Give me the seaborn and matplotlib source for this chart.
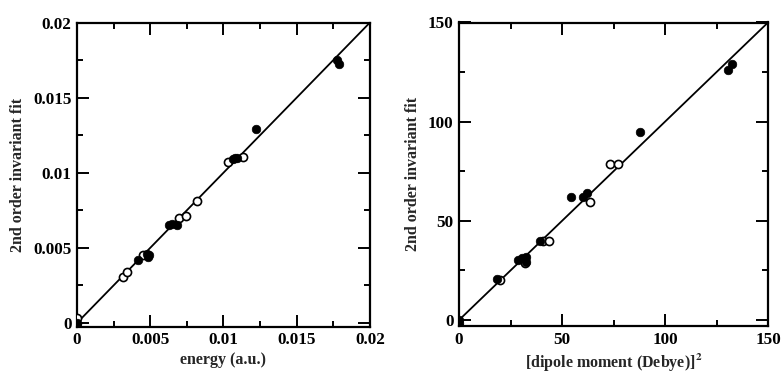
import matplotlib
matplotlib.use("Agg")
import matplotlib.pyplot as plt
import seaborn as sns
import pandas as pd
from matplotlib.ticker import MultipleLocator

# ---------------- data ----------------
# Left panel: energy (a.u.) vs 2nd order invariant fit
energy_filled_x = [0.0, 0.0, 0.00419, 0.00476, 0.00485, 0.00494, 0.0063, 0.0065, 0.0068,
                   0.01063, 0.01078, 0.01094, 0.01222, 0.01773, 0.01789]
energy_filled_y = [0.0, -0.0001, 0.0042, 0.0046, 0.0044, 0.0045, 0.0065, 0.0066, 0.0065,
                   0.0109, 0.0110, 0.0110, 0.0129, 0.01748, 0.01721]
energy_open_x = [0.0, 0.00312, 0.00339, 0.00453, 0.00698, 0.00744, 0.00817,
                 0.01033, 0.01131]
energy_open_y = [0.0003, 0.00309, 0.00342, 0.00453, 0.00698, 0.00713, 0.00809,
                 0.01071, 0.01105]
energy_ticks = [0, 0.005, 0.01, 0.015, 0.02]
energy_ticklabels = ["0", "0.005", "0.01", "0.015", "0.02"]

# Right panel: [dipole moment (Debye)]^2 vs 2nd order invariant fit
dipole_filled_x = [0.0, 0.0, 0.0, 18.3, 28.8, 30.4, 32.5, 32.5, 39.3, 54.2, 60.0, 62.2,
                   87.9, 130.7, 132.7]
dipole_filled_y = [0.0, -1.5, -3.0, 20.5, 30.3, 31.1, 31.9, 29.4, 40.0, 62.2, 62.2, 63.9,
                   95.0, 126.1, 129.0]
dipole_open_x = [19.9, 32.0, 40.8, 43.8, 63.6, 73.3, 77.3]
dipole_open_y = [20.3, 29.0, 40.0, 40.0, 59.3, 78.7, 78.7]
dipole_ticks = [0, 50, 100, 150]
dipole_ticklabels = ["0", "50", "100", "150"]

# ---------------- style ----------------
sns.set_theme(style="ticks")
plt.rcParams["font.family"] = ["Liberation Serif", "DejaVu Serif"]
plt.rcParams["font.weight"] = "bold"
plt.rcParams["mathtext.fontset"] = "stix"

fig = plt.figure(figsize=(7.84, 3.75), dpi=100)
ax1 = fig.add_axes([0.0982, 0.1288, 0.3737, 0.8112])
ax2 = fig.add_axes([0.5855, 0.1307, 0.3941, 0.8093])

FS_TICK = 12.3
FS_LAB = 11.5


def draw(ax, fx, fy, ox, oy, lim, ylim, ticks, ticklabels, minor, xlabel):
    df_f = pd.DataFrame({"x": fx, "y": fy})
    df_o = pd.DataFrame({"x": ox, "y": oy})
    line = pd.DataFrame({"x": [0, lim], "y": [0, lim]})
    sns.lineplot(data=line, x="x", y="y", ax=ax, color="black", linewidth=1.3,
                 zorder=2)
    sns.scatterplot(data=df_o, x="x", y="y", ax=ax, marker="o", s=34,
                    facecolor="white", edgecolor="black", linewidth=1.2, zorder=3)
    sns.scatterplot(data=df_f, x="x", y="y", ax=ax, marker="o", s=38,
                    color="black", edgecolor="black", linewidth=0.5, zorder=4)
    ax.set_xlim(0, lim)
    ax.set_ylim(*ylim)
    ax.set_xticks(ticks)
    ax.set_xticklabels(ticklabels, fontweight="bold")
    ax.set_yticks(ticks)
    ax.set_yticklabels(ticklabels, fontweight="bold")
    ax.xaxis.set_minor_locator(MultipleLocator(minor))
    ax.yaxis.set_minor_locator(MultipleLocator(minor))
    ax.tick_params(which="both", direction="in", top=True, right=True,
                   color="black", width=1.4)
    ax.tick_params(which="major", length=8.5, labelsize=FS_TICK, pad=4)
    ax.tick_params(which="minor", length=4.5)
    for s in ax.spines.values():
        s.set_linewidth(1.6)
        s.set_color("black")
        s.set_visible(True)
    ax.set_xlabel(xlabel, fontsize=FS_LAB, fontweight="bold", labelpad=3)
    ax.set_ylabel("2nd order invariant fit", fontsize=FS_LAB, fontweight="bold",
                  labelpad=5)
    ax.set_facecolor("white")
    for lab in ax.get_xticklabels() + ax.get_yticklabels():
        lab.set_color("black")


draw(ax1, energy_filled_x, energy_filled_y, energy_open_x, energy_open_y,
     0.02, (-0.00025, 0.02), energy_ticks, energy_ticklabels, 0.0025,
     "energy (a.u.)")
draw(ax2, dipole_filled_x, dipole_filled_y, dipole_open_x, dipole_open_y,
     150, (-3, 150), dipole_ticks, dipole_ticklabels, 25,
     r"[dipole moment (Debye)]$^{\mathbf{2}}$")

fig.savefig("out.png", dpi=100, facecolor="white")
